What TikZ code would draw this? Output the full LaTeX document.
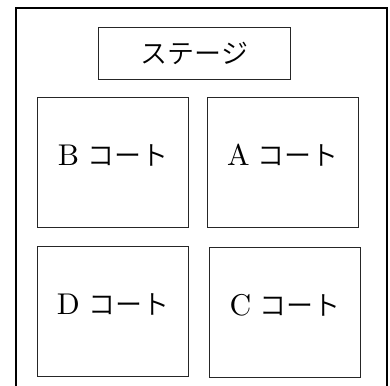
\documentclass[tikz,border=0pt]{standalone}
\usepackage{fontspec}
\newfontfamily\cjk{Noto Sans CJK JP DemiLight}
\newfontfamily\latf{lmroman10-regular.otf}
\begin{document}
\begin{tikzpicture}[x=1pt,y=-1pt,
  court/.style={draw=black!85,line width=0.9pt,minimum width=151pt,minimum height=130pt,inner sep=0pt},
  stagebox/.style={draw=black!85,line width=0.9pt,minimum width=192pt,minimum height=51.5pt,inner sep=0pt},
  lbl/.style={font=\fontsize{27}{30}\selectfont,inner sep=0pt}]
\useasboundingbox (0,0) rectangle (390,385);
\fill[white] (0,0) rectangle (390,385);
\begin{scope}
\clip (0,0) rectangle (390,385);
\coordinate (fl) at (16,390);
\coordinate (fr) at (387,390);
\draw[line width=1.8pt,line join=miter] (fl) -- (16,8) -- (387,8) -- (fr);
\end{scope}
\node[stagebox] (stage) at (194.5,53.25) {};
\node[lbl] (stagetxt) at (stage.center) {\cjk ステージ};
\node[court] (B) at (113,162.5) {};
\node[court] (A) at (283,162.5) {};
\node[court] (D) at (113,311.5) {};
\node[court] (C) at (285,312.5) {};
\newcommand\lat[1]{{\latf\fontsize{30}{32}\selectfont #1}}
\node[lbl] (Bt) at ([yshift=7.5pt]B.center) {\lat{B} \cjk コート};
\node[lbl] (At) at ([yshift=7.5pt]A.center) {\lat{A} \cjk コート};
\node[lbl] (Dt) at ([yshift=7.5pt]D.center) {\lat{D} \cjk コート};
\node[lbl] (Ct) at ([yshift=7.5pt]C.center) {\lat{C} \cjk コート};
\end{tikzpicture}
\end{document}
